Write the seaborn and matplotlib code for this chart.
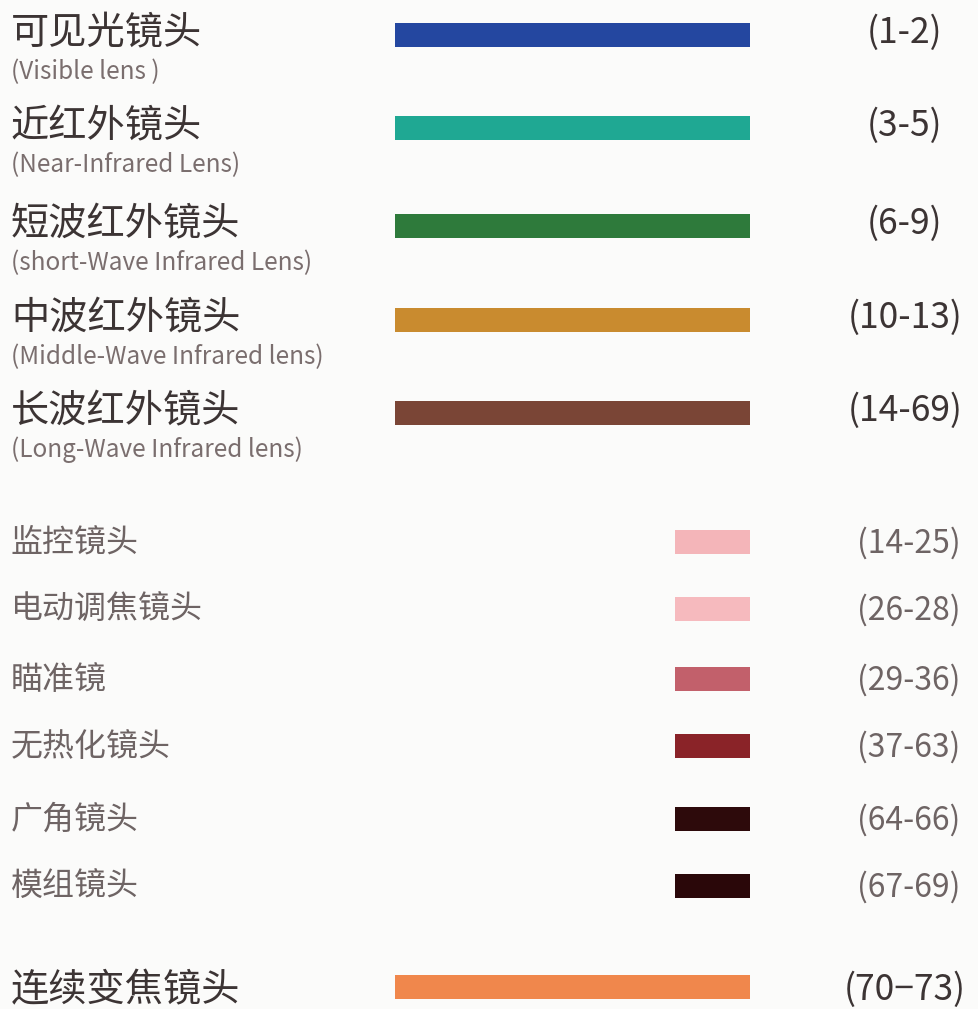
import numpy as np
import matplotlib
matplotlib.use("Agg")
import matplotlib.pyplot as plt
import seaborn as sns

sns.set_theme(style="white")
plt.rcParams['font.family'] = ['Noto Sans CJK SC', 'DejaVu Sans']

# Data: lens categories, relative bar length, page ranges, colours
names_cn = ["可见光镜头", "近红外镜头", "短波红外镜头", "中波红外镜头", "长波红外镜头",
            "监控镜头", "电动调焦镜头", "瞄准镜", "无热化镜头", "广角镜头", "模组镜头",
            "连续变焦镜头"]
names_en = ["(Visible lens )", "(Near-Infrared Lens)", "(short-Wave Infrared Lens)",
            "(Middle-Wave Infrared lens)", "(Long-Wave Infrared lens)",
            "", "", "", "", "", "", ""]
ranges = ["(1-2)", "(3-5)", "(6-9)", "(10-13)", "(14-69)",
          "(14-25)", "(26-28)", "(29-36)", "(37-63)", "(64-66)", "(67-69)",
          "(70\u221273)"]
bar_len = [1.0, 1.0, 1.0, 1.0, 1.0, 0.21, 0.21, 0.21, 0.21, 0.21, 0.21, 1.0]
colors = ["#2447a0", "#1fa893", "#2e7a3b", "#c98b2f", "#7a4536",
          "#f4b5b9", "#f6babe", "#c2606b", "#8a2328", "#2d0a0b", "#2a0709",
          "#f0874c"]
major = [True, True, True, True, True, False, False, False, False, False, False, True]

# Layout (pixel-like coordinates)
row_y = np.array([35, 128, 226, 320, 413, 542, 609, 679, 746, 819, 886, 987])
bar_end = 750
full_w = 355
bar_h = 24

fig = plt.figure(figsize=(9.79, 10.09), dpi=100)
fig.patch.set_facecolor("#fbfbfa")
ax = fig.add_axes([0, 0, 1, 1])
ax.set_facecolor("#fbfbfa")
ax.set_xlim(0, 979)
ax.set_ylim(1009, 0)
ax.axis("off")

widths = np.array(bar_len) * full_w
ax.barh(row_y, widths, left=bar_end - widths, height=bar_h, color=colors, edgecolor="none")

for i, y in enumerate(row_y):
    if major[i]:
        ty = y - 1 if names_en[i] else y + 4
        ax.text(11, ty, names_cn[i], fontsize=27.5, color="#3c3434", ha="left", va="center")
        if names_en[i]:
            ax.text(11, y + 37, names_en[i], fontsize=17.5, color="#7a6e6e", ha="left", va="center")
        ax.text(905, ty - 1, ranges[i], fontsize=25.5, color="#3c3434", ha="center", va="center")
    else:
        ax.text(11, y + 1, names_cn[i], fontsize=23, color="#6e6464", ha="left", va="center")
        ax.text(909, y + 1, ranges[i], fontsize=23, color="#6e6464", ha="center", va="center")

fig.savefig("out.png", dpi=100, facecolor=fig.get_facecolor())
